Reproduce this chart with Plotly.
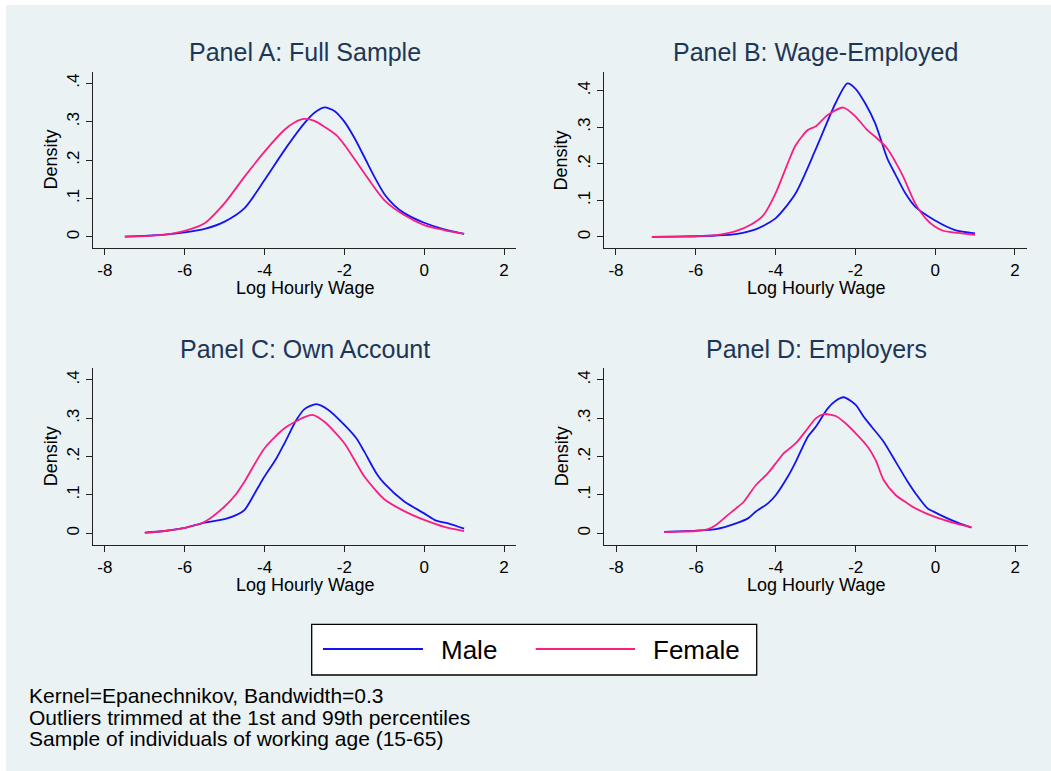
import plotly.graph_objects as go

W, H = 1051, 771

# ---------------- data ----------------
a_male_x = [-7.5, -7.0, -6.5, -6.0, -5.5, -5.0, -4.5, -4.0, -3.5, -3.0, -2.75, -2.5, -2.25, -2.0, -1.75, -1.5, -1.25, -1.0, -0.75, -0.5, 0.0, 0.5, 1.0]
a_male_y = [0.001, 0.003, 0.006, 0.012, 0.021, 0.040, 0.075, 0.148, 0.226, 0.296, 0.323, 0.337, 0.328, 0.300, 0.258, 0.208, 0.157, 0.112, 0.082, 0.062, 0.037, 0.020, 0.008]
a_fem_x = [-7.5, -7.0, -6.5, -6.0, -5.5, -5.0, -4.5, -4.0, -3.5, -3.25, -3.0, -2.75, -2.5, -2.2, -2.0, -1.5, -1.0, -0.5, 0.0, 0.5, 1.0]
a_fem_y = [0.001, 0.002, 0.006, 0.016, 0.036, 0.088, 0.157, 0.222, 0.279, 0.298, 0.307, 0.302, 0.287, 0.265, 0.240, 0.166, 0.096, 0.057, 0.031, 0.018, 0.008]

b_male_x = [-7.1, -6.5, -6.0, -5.5, -5.0, -4.5, -4.0, -3.5, -3.0, -2.5, -2.2, -2.0, -1.75, -1.5, -1.2, -1.0, -0.75, -0.5, 0.0, 0.5, 1.0]
b_male_y = [0.000, 0.001, 0.002, 0.004, 0.008, 0.021, 0.051, 0.119, 0.238, 0.365, 0.420, 0.406, 0.365, 0.310, 0.215, 0.172, 0.120, 0.083, 0.045, 0.019, 0.010]
b_fem_x = [-7.1, -6.5, -6.0, -5.5, -5.0, -4.6, -4.3, -4.0, -3.7, -3.5, -3.2, -3.0, -2.7, -2.3, -2.0, -1.7, -1.5, -1.2, -1.0, -0.8, -0.5, -0.2, 0.0, 0.2, 0.5, 1.0]
b_fem_y = [0.000, 0.001, 0.002, 0.005, 0.016, 0.035, 0.060, 0.119, 0.200, 0.250, 0.292, 0.302, 0.333, 0.354, 0.330, 0.292, 0.274, 0.242, 0.206, 0.165, 0.092, 0.046, 0.028, 0.017, 0.012, 0.006]

c_male_x = [-7.0, -6.5, -6.0, -5.5, -5.0, -4.7, -4.5, -4.2, -4.0, -3.7, -3.5, -3.2, -3.0, -2.7, -2.4, -2.0, -1.7, -1.5, -1.2, -1.0, -0.5, 0.0, 0.3, 0.6, 1.0]
c_male_y = [0.002, 0.006, 0.014, 0.028, 0.037, 0.048, 0.061, 0.113, 0.148, 0.196, 0.235, 0.296, 0.324, 0.337, 0.322, 0.283, 0.248, 0.213, 0.157, 0.130, 0.083, 0.052, 0.033, 0.026, 0.012]
c_fem_x = [-7.0, -6.5, -6.0, -5.5, -5.0, -4.7, -4.5, -4.0, -3.5, -3.0, -2.8, -2.5, -2.0, -1.7, -1.5, -1.0, -0.5, 0.0, 0.5, 1.0]
c_fem_y = [0.001, 0.006, 0.014, 0.030, 0.070, 0.104, 0.135, 0.222, 0.274, 0.303, 0.309, 0.291, 0.235, 0.183, 0.148, 0.089, 0.058, 0.035, 0.017, 0.006]

d_male_x = [-6.8, -6.5, -6.0, -5.5, -5.0, -4.7, -4.5, -4.2, -4.0, -3.7, -3.5, -3.2, -3.0, -2.7, -2.5, -2.3, -2.0, -1.8, -1.6, -1.3, -1.0, -0.7, -0.5, -0.2, 0.0, 0.3, 0.6, 0.9]
d_male_y = [0.004, 0.005, 0.007, 0.011, 0.026, 0.039, 0.057, 0.078, 0.100, 0.148, 0.187, 0.252, 0.278, 0.326, 0.346, 0.355, 0.335, 0.304, 0.278, 0.239, 0.187, 0.135, 0.104, 0.065, 0.054, 0.039, 0.026, 0.015]
d_fem_x = [-6.8, -6.5, -6.0, -5.7, -5.5, -5.2, -5.0, -4.8, -4.5, -4.2, -4.0, -3.8, -3.5, -3.2, -3.0, -2.8, -2.5, -2.3, -2.0, -1.7, -1.5, -1.3, -1.0, -0.7, -0.5, 0.0, 0.5, 0.9]
d_fem_y = [0.003, 0.004, 0.006, 0.011, 0.022, 0.048, 0.065, 0.083, 0.126, 0.157, 0.183, 0.209, 0.235, 0.274, 0.300, 0.311, 0.306, 0.291, 0.261, 0.226, 0.191, 0.139, 0.100, 0.078, 0.065, 0.042, 0.026, 0.016]

panel_titles = ["Panel A: Full Sample", "Panel B: Wage-Employed", "Panel C: Own Account", "Panel D: Employers"]
series_names = ["Male", "Female"]
x_ticks = [-8, -6, -4, -2, 0, 2]
y_ticks = [0, 0.1, 0.2, 0.3, 0.4]
y_tick_labels = ["0", ".1", ".2", ".3", ".4"]
x_title = "Log Hourly Wage"
y_title = "Density"
notes = ["Kernel=Epanechnikov, Bandwidth=0.3",
         "Outliers trimmed at the 1st and 99th percentiles",
         "Sample of individuals of working age (15-65)"]

# ---------------- style ----------------
BG = "#EAF2F3"
MALE_C = "#1414F0"
FEM_C = "#FA1E82"
TITLE_C = "#1E3656"
FONT = "Liberation Sans, Arial, Helvetica, sans-serif"

def fx(px):
    return px / W

def fy(py):
    return 1 - py / H

panels = [
    dict(box=(93.3, 516.0, 71.7, 248.0), xr=[-8.29, 2.30], yr=[-0.0287, 0.430],
         data=[(a_male_x, a_male_y), (a_fem_x, a_fem_y)]),
    dict(box=(604.0, 1027.3, 71.7, 248.3), xr=[-8.30, 2.31], yr=[-0.031, 0.452],
         data=[(b_male_x, b_male_y), (b_fem_x, b_fem_y)]),
    dict(box=(93.3, 516.0, 368.3, 545.0), xr=[-8.29, 2.30], yr=[-0.0305, 0.4305],
         data=[(c_male_x, c_male_y), (c_fem_x, c_fem_y)]),
    dict(box=(604.3, 1027.7, 368.3, 545.0), xr=[-8.30, 2.31], yr=[-0.0305, 0.4305],
         data=[(d_male_x, d_male_y), (d_fem_x, d_fem_y)]),
]

fig = go.Figure()
layout = dict(
    width=W, height=H,
    margin=dict(l=0, r=0, t=0, b=0),
    paper_bgcolor="white",
    plot_bgcolor="white",
    showlegend=False,
    font=dict(family=FONT, color="black"),
)
annotations = []
shapes = [dict(type="rect", xref="paper", yref="paper", x0=fx(6), x1=1, y0=0, y1=fy(5),
               fillcolor=BG, line=dict(width=0), layer="below")]

for i, p in enumerate(panels):
    l, r, t, b = p["box"]
    sfx = "" if i == 0 else str(i + 1)
    xa, ya = "x" + sfx, "y" + sfx
    for (xs, ys), name, col in zip(p["data"], series_names, [MALE_C, FEM_C]):
        fig.add_trace(go.Scatter(x=xs, y=ys, mode="lines", name=name,
                                 line=dict(color=col, width=1.8, shape="spline", smoothing=0.7),
                                 xaxis=xa, yaxis=ya, hoverinfo="skip"))
    layout["xaxis" + sfx] = dict(
        domain=[fx(l), fx(r)], range=p["xr"], anchor=ya,
        tickvals=x_ticks, ticktext=[str(v) for v in x_ticks],
        showgrid=False, zeroline=False,
        showline=True, linecolor="#222222", linewidth=1.3,
        ticks="outside", ticklen=6, tickwidth=1.3, tickcolor="#222222",
        tickfont=dict(size=17, family=FONT, color="black"),
    )
    layout["yaxis" + sfx] = dict(
        domain=[fy(b), fy(t)], range=p["yr"], anchor=xa,
        tickvals=y_ticks, ticktext=y_tick_labels, tickangle=-90,
        showgrid=True, gridcolor=BG, gridwidth=1.5, zeroline=False,
        showline=True, linecolor="#222222", linewidth=1.3,
        ticks="outside", ticklen=6, tickwidth=1.3, tickcolor="#222222",
        tickfont=dict(size=17, family=FONT, color="black"),
    )
    cx = (l + r) / 2
    annotations.append(dict(text=panel_titles[i], x=fx(cx), y=fy(t - 19.5), xref="paper", yref="paper",
                            showarrow=False, xanchor="center", yanchor="middle",
                            font=dict(size=25, family=FONT, color=TITLE_C)))
    annotations.append(dict(text=x_title, x=fx(cx), y=fy(b + 40), xref="paper", yref="paper",
                            showarrow=False, xanchor="center", yanchor="middle",
                            font=dict(size=18, family=FONT, color="black")))
    annotations.append(dict(text=y_title, x=fx(l - 42.6), y=fy((t + b) / 2), xref="paper", yref="paper",
                            showarrow=False, xanchor="center", yanchor="middle", textangle=-90,
                            font=dict(size=18, family=FONT, color="black")))

# legend (drawn manually to match the wide line samples)
shapes.append(dict(type="rect", xref="paper", yref="paper", x0=fx(311.7), x1=fx(756.7),
                   y0=fy(675), y1=fy(624.3), fillcolor="white", line=dict(color="black", width=1.3)))
for (x0, x1, col) in [(323, 423, MALE_C), (535.7, 635, FEM_C)]:
    shapes.append(dict(type="line", xref="paper", yref="paper", x0=fx(x0), x1=fx(x1),
                       y0=fy(649), y1=fy(649), line=dict(color=col, width=2.2)))
for name, x0 in zip(series_names, [440, 652]):
    annotations.append(dict(text=name, x=fx(x0 - 1), y=fy(650), xref="paper", yref="paper",
                            showarrow=False, xanchor="left", yanchor="middle",
                            font=dict(size=26, family=FONT, color="black")))

# notes
for k, line in enumerate(notes):
    annotations.append(dict(text=line, x=fx(27), y=fy(695.5 + 21.7 * k), xref="paper", yref="paper",
                            showarrow=False, xanchor="left", yanchor="middle",
                            font=dict(size=21, family=FONT, color="black")))

layout["annotations"] = annotations
layout["shapes"] = shapes
fig.update_layout(**layout)
fig.write_html("out.html")
